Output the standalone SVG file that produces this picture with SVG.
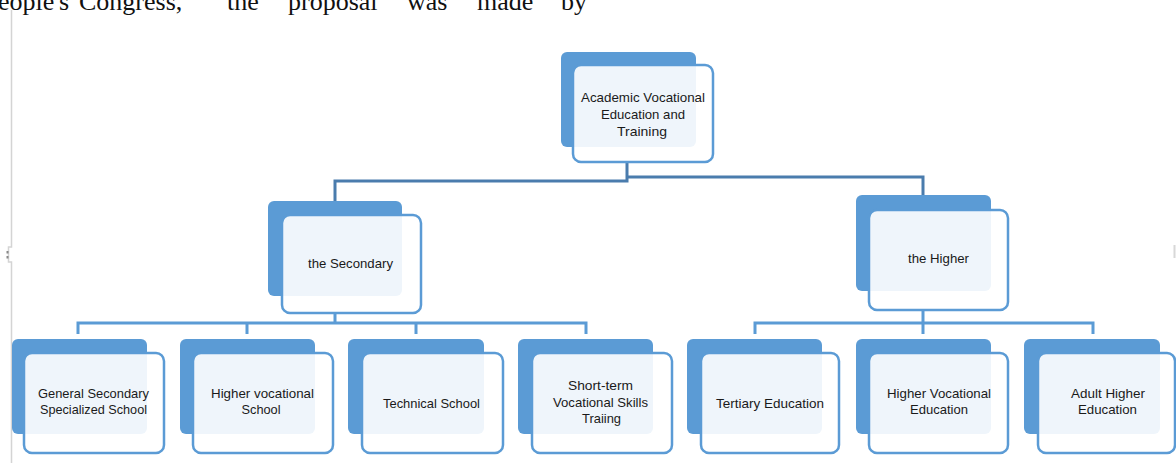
<svg xmlns="http://www.w3.org/2000/svg" width="1176" height="463" viewBox="0 0 1176 463">
<style>
.bk{fill:#5b9bd5}
.fr{fill:#fff;fill-opacity:0.9;stroke:#5b9bd5;stroke-width:2.5}
.t{font-family:"Liberation Sans",Arial,sans-serif;font-size:13px;fill:#1a1a1a;text-anchor:middle}
.c1{fill:none;stroke:#4a7cad;stroke-width:3}
.c2{fill:none;stroke:#5b9bd5;stroke-width:3}
.hd{font-family:"Liberation Serif","Times New Roman",serif;font-size:26px;fill:#111}
</style>
<rect width="1176" height="463" fill="#fff"/>
<g id="page">
<text class="hd" y="10"><tspan x="-2">eople's</tspan><tspan x="79">Congress,</tspan><tspan x="227">the</tspan><tspan x="288">proposal</tspan><tspan x="407">was</tspan><tspan x="477">made</tspan><tspan x="561">by</tspan></text>
<path d="M11.5 10 V247 H8.5 V262 H11.5 V463" fill="none" stroke="#d4d4d4" stroke-width="1.5"/>
<rect x="6.5" y="251" width="2" height="2.5" fill="#888"/>
<rect x="6.5" y="256" width="2" height="2.5" fill="#888"/>
<rect x="1173.5" y="245" width="2" height="13" fill="#d8d8d8"/>
</g>
<g id="connectors">
<path class="c1" d="M627 162 V181 H335 V201 M627 177 H923 V195"/>
<path class="c2" d="M335 313 V323 M78 334 V323 H586 V334 M247 323 V334 M416 323 V334"/>
<path class="c2" d="M923 310 V323 M755 334 V323 H1093 V334 M923 323 V334"/>
</g>
<g id="n-root">
<rect class="bk" x="561" y="52" width="135" height="95" rx="6"/>
<rect class="fr" x="573" y="65" width="140" height="97" rx="8"/>
<text class="t"><tspan x="643" y="102" textLength="124" lengthAdjust="spacingAndGlyphs">Academic Vocational</tspan><tspan x="643" y="119" textLength="84" lengthAdjust="spacingAndGlyphs">Education and</tspan><tspan x="642" y="136" textLength="50" lengthAdjust="spacingAndGlyphs">Training</tspan></text>
</g>
<g id="n-secondary">
<rect class="bk" x="268" y="201" width="134" height="95" rx="6"/>
<rect class="fr" x="282" y="215" width="139" height="98" rx="8"/>
<text class="t" x="350.5" y="268" textLength="85" lengthAdjust="spacingAndGlyphs">the Secondary</text>
</g>
<g id="n-higher">
<rect class="bk" x="856" y="195" width="135" height="96" rx="6"/>
<rect class="fr" x="869" y="210" width="139" height="100" rx="8"/>
<text class="t" x="938.5" y="263" textLength="61" lengthAdjust="spacingAndGlyphs">the Higher</text>
</g>
<g id="n-general">
<rect class="bk" x="12" y="339" width="135" height="95" rx="6"/>
<rect class="fr" x="24" y="353" width="140" height="100" rx="8"/>
<text class="t"><tspan x="93.5" y="398" textLength="111" lengthAdjust="spacingAndGlyphs">General Secondary</tspan><tspan x="93.5" y="414" textLength="107" lengthAdjust="spacingAndGlyphs">Specialized School</tspan></text>
</g>
<g id="n-highervoc-school">
<rect class="bk" x="180" y="339" width="135" height="95" rx="6"/>
<rect class="fr" x="193" y="353" width="140" height="100" rx="8"/>
<text class="t"><tspan x="262.5" y="398" textLength="103" lengthAdjust="spacingAndGlyphs">Higher vocational</tspan><tspan x="261" y="414" textLength="39" lengthAdjust="spacingAndGlyphs">School</tspan></text>
</g>
<g id="n-technical">
<rect class="bk" x="348" y="339" width="136" height="95" rx="6"/>
<rect class="fr" x="362" y="353" width="141" height="100" rx="8"/>
<text class="t" x="431.5" y="408" textLength="97" lengthAdjust="spacingAndGlyphs">Technical School</text>
</g>
<g id="n-shortterm">
<rect class="bk" x="518" y="339" width="135" height="95" rx="6"/>
<rect class="fr" x="532" y="353" width="140" height="100" rx="8"/>
<text class="t"><tspan x="600.5" y="390" textLength="65" lengthAdjust="spacingAndGlyphs">Short-term</tspan><tspan x="600.5" y="407" textLength="95" lengthAdjust="spacingAndGlyphs">Vocational Skills</tspan><tspan x="601.5" y="423" textLength="39" lengthAdjust="spacingAndGlyphs">Traiing</tspan></text>
</g>
<g id="n-tertiary">
<rect class="bk" x="687" y="339" width="135" height="95" rx="6"/>
<rect class="fr" x="701" y="353" width="138" height="100" rx="8"/>
<text class="t" x="770" y="408" textLength="108" lengthAdjust="spacingAndGlyphs">Tertiary Education</text>
</g>
<g id="n-highervoc-edu">
<rect class="bk" x="856" y="339" width="135" height="95" rx="6"/>
<rect class="fr" x="869" y="353" width="139" height="100" rx="8"/>
<text class="t"><tspan x="939" y="398" textLength="104" lengthAdjust="spacingAndGlyphs">Higher Vocational</tspan><tspan x="939" y="414" textLength="58" lengthAdjust="spacingAndGlyphs">Education</tspan></text>
</g>
<g id="n-adult">
<rect class="bk" x="1024" y="339" width="136" height="95" rx="6"/>
<rect class="fr" x="1038" y="353" width="137" height="100" rx="8"/>
<text class="t"><tspan x="1108" y="398" textLength="74" lengthAdjust="spacingAndGlyphs">Adult Higher</tspan><tspan x="1107.5" y="414" textLength="59" lengthAdjust="spacingAndGlyphs">Education</tspan></text>
</g>
</svg>
